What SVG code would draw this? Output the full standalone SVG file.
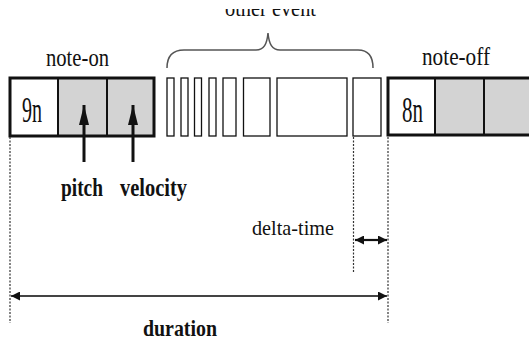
<svg xmlns="http://www.w3.org/2000/svg" width="529" height="340" viewBox="0 0 529 340">
<defs>
  <style>
    .t { font-family: "Liberation Serif", "Times New Roman", serif; fill: #111; }
    .b { font-weight: bold; }
    .box { fill: none; stroke: #111; stroke-width: 3; }
    .cell { stroke: #111; stroke-width: 2; }
    .ev { fill: #fff; stroke: #111; stroke-width: 1.3; }
    .dot { stroke: #333; stroke-width: 1.2; stroke-dasharray: 2 1.5; fill: none; }
    .arr { stroke: #444; stroke-width: 2.2; fill: none; }
  </style>
  <marker id="ah" viewBox="0 0 10 10" refX="10" refY="5" markerWidth="9" markerHeight="9" markerUnits="userSpaceOnUse" orient="auto-start-reverse">
    <path d="M0,0 L10,5 L0,10 z" fill="#111"/>
  </marker>
  <marker id="up" viewBox="0 0 10 20" refX="5" refY="0" markerWidth="10" markerHeight="20" markerUnits="userSpaceOnUse" orient="0">
    <path d="M5,0 L10,20 L0,20 z" fill="#111"/>
  </marker>
  <clipPath id="topclip"><rect x="0" y="9" width="529" height="20"/></clipPath>
</defs>
<rect width="529" height="340" fill="#fff"/>

<g id="note-on">
  <rect x="58" y="78" width="49" height="58" fill="#d3d3d3"/>
  <rect x="107" y="78" width="47" height="58" fill="#d3d3d3"/>
  <line class="cell" x1="58" y1="78" x2="58" y2="136"/>
  <line class="cell" x1="107" y1="78" x2="107" y2="136"/>
  <rect class="box" x="10" y="78" width="144" height="58"/>
  <text class="t" x="46" y="66" font-size="26" textLength="63" lengthAdjust="spacingAndGlyphs">note-on</text>
  <text class="t" x="22" y="122" font-size="36" textLength="20" lengthAdjust="spacingAndGlyphs">9n</text>
</g>

<g id="other-event">
  <rect class="ev" x="167" y="78" width="7" height="58"/>
  <rect class="ev" x="181" y="78" width="7" height="58"/>
  <rect class="ev" x="194.5" y="78" width="7" height="58"/>
  <rect class="ev" x="209" y="78" width="7" height="58"/>
  <rect class="ev" x="223" y="78" width="13" height="58"/>
  <rect class="ev" x="243.5" y="78" width="26.5" height="58"/>
  <rect class="ev" x="277" y="78" width="70" height="58"/>
  <rect class="ev" x="353" y="78" width="28" height="58"/>
  <path d="M167,68 C167,56 172,50 184,50 L256,50 C264,50 267,44 268,33 C269,44 272,50 280,50 L358,50 C368,50 373,56 373,68" fill="none" stroke="#555" stroke-width="1.5"/>
  <text class="t" x="225" y="16" font-size="24" textLength="91" lengthAdjust="spacingAndGlyphs" clip-path="url(#topclip)">other event</text>
</g>

<g id="note-off">
  <rect x="435" y="78" width="100" height="57" fill="#d3d3d3"/>
  <line class="cell" x1="435" y1="78" x2="435" y2="135"/>
  <line class="cell" x1="484" y1="78" x2="484" y2="135"/>
  <rect class="box" x="388" y="78" width="150" height="57"/>
  <text class="t" x="422" y="65" font-size="26" textLength="68" lengthAdjust="spacingAndGlyphs">note-off</text>
  <text class="t" x="402" y="122" font-size="36" textLength="21" lengthAdjust="spacingAndGlyphs">8n</text>
</g>

<g id="pitch">
  <text class="t b" x="61" y="196" font-size="26" textLength="42" lengthAdjust="spacingAndGlyphs">pitch</text>
</g>
<g id="velocity">
  <text class="t b" x="120" y="196" font-size="26" textLength="67" lengthAdjust="spacingAndGlyphs">velocity</text>
</g>
<g id="delta-time">
  <text class="t" x="252" y="235" font-size="22" textLength="82" lengthAdjust="spacingAndGlyphs">delta-time</text>
</g>
<g id="duration">
  <text class="t b" x="143" y="336" font-size="24" textLength="74" lengthAdjust="spacingAndGlyphs">duration</text>
</g>

<g id="connectors">
  <line x1="84" y1="162" x2="84" y2="105" stroke="#111" stroke-width="3" marker-end="url(#up)"/>
  <line x1="133" y1="162" x2="133" y2="105" stroke="#111" stroke-width="3" marker-end="url(#up)"/>
  <line class="dot" x1="10" y1="137" x2="10" y2="323"/>
  <line class="dot" x1="353.5" y1="137" x2="353.5" y2="273"/>
  <line class="dot" x1="388" y1="137" x2="388" y2="323"/>
  <line x1="355" y1="240" x2="387" y2="240" stroke="#111" stroke-width="2.2" marker-start="url(#ah)" marker-end="url(#ah)"/>
  <line class="arr" x1="11" y1="296" x2="387" y2="296" marker-start="url(#ah)" marker-end="url(#ah)"/>
</g>
</svg>
